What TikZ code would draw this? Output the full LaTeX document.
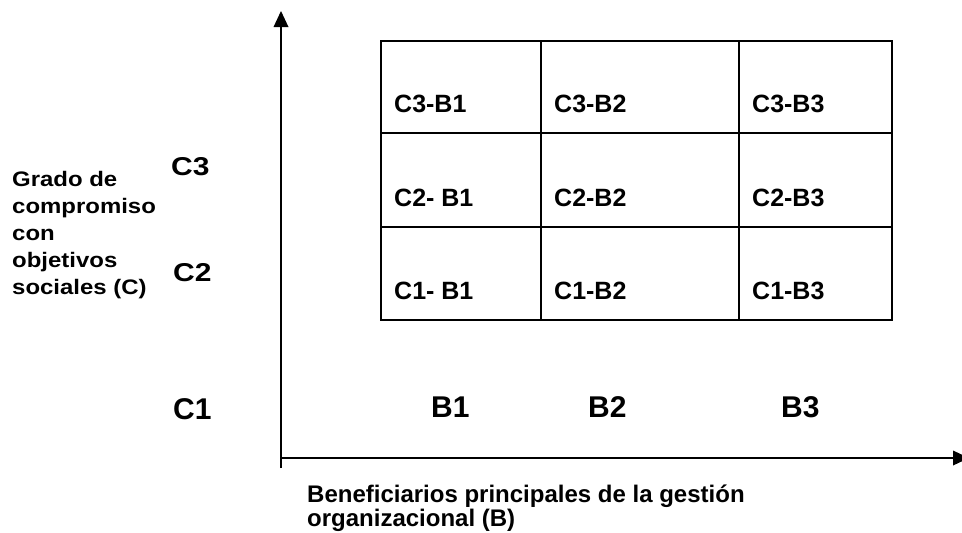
\documentclass[tikz,border=0pt]{standalone}
\usepackage{fontspec}
\setmainfont{Liberation Sans}

\begin{document}
\begin{tikzpicture}[x=1pt,y=-1pt]
\tikzstyle{every node}+=[inner sep=0pt]
\tikzstyle{cell}=[anchor=base west,font=\fontsize{25}{30}\selectfont\bfseries]
\tikzstyle{level}=[anchor=base west,font=\fontsize{30}{36}\selectfont\bfseries]
\tikzstyle{axistext}=[anchor=north west,align=left]
\useasboundingbox (0,0) rectangle (962,533);
% axes
\coordinate (ytop) at (281,26);
\coordinate (ybot) at (281,468);
\coordinate (xorig) at (281,458);
\coordinate (xend) at (954,458);
\draw [black,line width=1.6] (ybot) -- (ytop);
\fill [black] (281,11) -- (273.5,27) -- (288.5,27);
\draw [black,line width=1.6] (xorig) -- (xend);
\fill [black] (969,458) -- (953,450.5) -- (953,465.5);
% table
\draw [black,line width=2] (381,41) rectangle (892,320);
\draw [black,line width=2] (381,133) -- (892,133);
\draw [black,line width=2] (381,227) -- (892,227);
\draw [black,line width=2] (541,41) -- (541,320);
\draw [black,line width=2] (739,41) -- (739,320);
\node [cell] (c3b1) at (394,112) {C3-B1};
\node [cell] (c3b2) at (554,112) {C3-B2};
\node [cell] (c3b3) at (752,112) {C3-B3};
\node [cell] (c2b1) at (394,206) {C2- B1};
\node [cell] (c2b2) at (554,206) {C2-B2};
\node [cell] (c2b3) at (752,206) {C2-B3};
\node [cell] (c1b1) at (394,299) {C1- B1};
\node [cell] (c1b2) at (554,299) {C1-B2};
\node [cell] (c1b3) at (752,299) {C1-B3};
% levels
\node [level,yscale=0.86] (c3) at (171,175) {C3};
\node [level,yscale=0.86] (c2) at (173,281) {C2};
\node [level] (c1) at (173,419) {C1};
\node [level] (b1) at (431,417) {B1};
\node [level] (b2) at (588,417) {B2};
\node [level] (b3) at (781,417) {B3};
% axis titles
\node [axistext,font=\fontsize{21}{27}\selectfont\bfseries,xscale=1.14] (gradoc) at (12,171) {Grado de\\compromiso\\con\\objetivos\\sociales (C)};
\node [axistext,font=\fontsize{24}{24}\selectfont\bfseries] (benefb) at (307,485) {Beneficiarios principales de la gestión\\organizacional (B)};
\end{tikzpicture}
\end{document}
